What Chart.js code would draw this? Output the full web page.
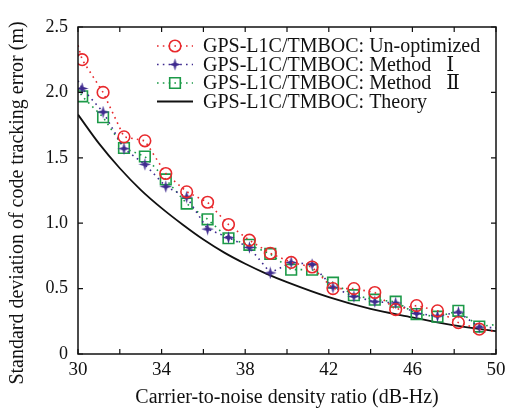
<!DOCTYPE html>
<html>
<head>
<meta charset="utf-8">
<script src="https://cdn.jsdelivr.net/npm/chart.js@4.4.1/dist/chart.umd.min.js"></script>
<style>
  html, body { margin: 0; padding: 0; background: #fff; }
  #wrap { width: 505px; height: 410px; }
</style>
</head>
<body>
<div id="wrap"><canvas id="chart" width="505" height="410"></canvas></div>
<script>
// C/N0 values where markers sit (dB-Hz)
const cn0 = [30.2, 31.2, 32.2, 33.2, 34.2, 35.2, 36.2, 37.2, 38.2, 39.2,
             40.2, 41.2, 42.2, 43.2, 44.2, 45.2, 46.2, 47.2, 48.2, 49.2];
// dotted lines run on to the plot edges
const edgeX = [30, 50];

const unoptimized = [2.25, 2.0, 1.66, 1.63, 1.38, 1.24, 1.16, 0.99, 0.87, 0.77,
                     0.70, 0.665, 0.50, 0.50, 0.47, 0.34, 0.37, 0.33, 0.24, 0.19];
const unoptimizedEdge = [2.36, 0.17];

const method1 = [2.03, 1.85, 1.57, 1.45, 1.28, 1.20, 0.955, 0.89, 0.815, 0.62,
                 0.70, 0.685, 0.51, 0.44, 0.40, 0.39, 0.31, 0.29, 0.32, 0.205];
const method1Edge = [2.09, 0.20];

const method2 = [1.97, 1.81, 1.575, 1.51, 1.335, 1.15, 1.03, 0.885, 0.835, 0.765,
                 0.645, 0.645, 0.545, 0.45, 0.415, 0.40, 0.305, 0.285, 0.33, 0.21];
const method2Edge = [2.03, 0.225];

// theory curve
const theoryX = [30, 31, 32, 33, 34, 35, 36, 37, 38, 39, 40, 42, 44, 46, 48, 50];
const theory  = [1.83, 1.61, 1.42, 1.255, 1.115, 0.99, 0.875, 0.775, 0.69, 0.615,
                 0.55, 0.435, 0.345, 0.28, 0.218, 0.175];

const xTicks = [30, 32, 34, 36, 38, 40, 42, 44, 46, 48, 50];
const yTicks = [0, 0.5, 1.0, 1.5, 2.0, 2.5];

const labels = [
  'GPS-L1C/TMBOC: Un-optimized',
  'GPS-L1C/TMBOC: Method \u2002\u2160',
  'GPS-L1C/TMBOC: Method \u2002\u2161',
  'GPS-L1C/TMBOC: Theory'
];
const xTitle = 'Carrier-to-noise density ratio (dB-Hz)';
const yTitle = 'Standard deviation of code tracking error (m)';

const RED = '#e8282c';
const BLUE = '#3f2b8f';
const GREEN = '#1c9a48';
const FONT = '"Liberation Serif", "DejaVu Serif", "Times New Roman", serif';

function withEdges(vals, edge) {
  const pts = [{ x: edgeX[0], y: edge[0] }];
  cn0.forEach((x, i) => pts.push({ x: x, y: vals[i] }));
  pts.push({ x: edgeX[1], y: edge[1] });
  return pts;
}
function radii(r) {
  return [0].concat(cn0.map(() => r)).concat([0]);
}

// filled four-point star used for Method I
function starCanvas(color) {
  const c = document.createElement('canvas');
  c.width = 13; c.height = 13;
  const g = c.getContext('2d');
  const cx = 6.5, cy = 6.5, R = 6.2, r = 2.0;
  g.fillStyle = color;
  g.beginPath();
  for (let i = 0; i < 8; i++) {
    const a = -Math.PI / 2 + i * Math.PI / 4;
    const d = i % 2 === 0 ? R : r;
    const px = cx + d * Math.cos(a), py = cy + d * Math.sin(a);
    if (i === 0) g.moveTo(px, py); else g.lineTo(px, py);
  }
  g.closePath();
  g.fill();
  return c;
}
const star = starCanvas(BLUE);

// box + inward ticks on all four sides, plus the y title
const frame = {
  id: 'frame',
  afterDatasetsDraw(chart) {
    const { ctx, chartArea: a, scales } = chart;
    ctx.save();
    ctx.strokeStyle = '#111';
    ctx.lineWidth = 1.5;
    ctx.strokeRect(a.left, a.top, a.right - a.left, a.bottom - a.top);
    ctx.lineWidth = 1.2;
    ctx.beginPath();
    xTicks.forEach(v => {
      const px = scales.x.getPixelForValue(v);
      ctx.moveTo(px, a.bottom); ctx.lineTo(px, a.bottom - 5);
      ctx.moveTo(px, a.top); ctx.lineTo(px, a.top + 5);
    });
    yTicks.forEach(v => {
      const py = scales.y.getPixelForValue(v);
      ctx.moveTo(a.left, py); ctx.lineTo(a.left + 5, py);
      ctx.moveTo(a.right, py); ctx.lineTo(a.right - 5, py);
    });
    ctx.stroke();

    // y title sits a little lower than the axis centre in the original
    ctx.translate(18, 203);
    ctx.rotate(-Math.PI / 2);
    ctx.fillStyle = '#111';
    ctx.font = '20px ' + FONT;
    ctx.textAlign = 'center';
    ctx.textBaseline = 'middle';
    ctx.fillText(yTitle, 0, 0);
    ctx.restore();
  }
};

// legend drawn inside the plot, top right, no box
const insideLegend = {
  id: 'insideLegend',
  afterDraw(chart) {
    const ctx = chart.ctx;
    const x0 = 157, x1 = 193, tx = 203;
    const rows = [46, 64.5, 83, 101.5];
    ctx.save();
    chart.data.datasets.forEach((ds, i) => {
      const y = rows[i];
      ctx.strokeStyle = ds.borderColor;
      ctx.lineWidth = ds.borderWidth;
      ctx.setLineDash(ds.borderDash || []);
      ctx.beginPath();
      ctx.moveTo(x0, y); ctx.lineTo(x1, y);
      ctx.stroke();
      ctx.setLineDash([]);
      if (ds.pointStyle) {
        ctx.strokeStyle = ds.borderColor;
        ctx.fillStyle = 'rgba(255,255,255,0)';
        ctx.lineWidth = ds.pointBorderWidth;
        Chart.helpers.drawPoint(ctx, {
          pointStyle: ds.pointStyle,
          radius: ds.legendRadius,
          borderWidth: ds.pointBorderWidth,
          rotation: 0
        }, (x0 + x1) / 2, y);
      }
      ctx.fillStyle = '#111';
      ctx.font = '20px ' + FONT;
      ctx.textAlign = 'left';
      ctx.textBaseline = 'middle';
      ctx.fillText(labels[i], tx, y + 1);
    });
    ctx.restore();
  }
};

new Chart(document.getElementById('chart'), {
  type: 'line',
  data: {
    datasets: [
      {
        label: labels[0],
        data: withEdges(unoptimized, unoptimizedEdge),
        borderColor: RED,
        borderWidth: 1.6,
        borderDash: [1.6, 4.2],
        pointStyle: 'circle',
        pointRadius: radii(5.8),
        legendRadius: 5.8,
        pointBorderColor: RED,
        pointBackgroundColor: 'rgba(0,0,0,0)',
        pointBorderWidth: 1.6,
        fill: false,
        tension: 0
      },
      {
        label: labels[1],
        data: withEdges(method1, method1Edge),
        borderColor: BLUE,
        borderWidth: 1.6,
        borderDash: [1.6, 4.2],
        pointStyle: star,
        pointRadius: radii(6),
        legendRadius: 6,
        pointBorderWidth: 0,
        fill: false,
        tension: 0
      },
      {
        label: labels[2],
        data: withEdges(method2, method2Edge),
        borderColor: GREEN,
        borderWidth: 1.6,
        borderDash: [1.6, 4.2],
        pointStyle: 'rect',
        pointRadius: radii(7.5),
        legendRadius: 7.5,
        pointBorderColor: GREEN,
        pointBackgroundColor: 'rgba(0,0,0,0)',
        pointBorderWidth: 1.6,
        fill: false,
        tension: 0
      },
      {
        label: labels[3],
        data: theoryX.map((x, i) => ({ x: x, y: theory[i] })),
        borderColor: '#111',
        borderWidth: 1.8,
        pointRadius: 0,
        fill: false,
        cubicInterpolationMode: 'monotone'
      }
    ]
  },
  options: {
    responsive: false,
    animation: false,
    layout: { padding: { top: 27, right: 9, left: 0, bottom: 0 } },
    plugins: {
      legend: { display: false },
      tooltip: { enabled: false }
    },
    scales: {
      x: {
        type: 'linear',
        min: 30,
        max: 50,
        grid: { display: false, drawTicks: false },
        border: { display: false },
        afterFit(scale) {
          scale.height = 56;
          scale.paddingLeft = 0;
          scale.paddingRight = 0;
        },
        afterBuildTicks(scale) { scale.ticks = xTicks.map(v => ({ value: v })); },
        ticks: {
          autoSkip: false,
          maxRotation: 0,
          padding: 5,
          color: '#111',
          font: { family: FONT, size: 19 },
          callback: v => ((v - 30) % 4 === 0 ? String(v) : '')
        },
        title: {
          display: true,
          text: xTitle,
          color: '#111',
          font: { family: FONT, size: 20 },
          padding: { top: 3, bottom: 0 }
        }
      },
      y: {
        min: 0,
        max: 2.5,
        grid: { display: false, drawTicks: false },
        border: { display: false },
        afterFit(scale) {
          scale.width = 78;
          scale.paddingTop = 0;
          scale.paddingBottom = 0;
        },
        afterBuildTicks(scale) { scale.ticks = yTicks.map(v => ({ value: v })); },
        ticks: {
          padding: 10,
          color: '#111',
          font: { family: FONT, size: 18 },
          callback: v => (v === 0 ? '0' : v.toFixed(1))
        },
        title: { display: false }
      }
    }
  },
  plugins: [frame, insideLegend]
});
</script>
</body>
</html>
